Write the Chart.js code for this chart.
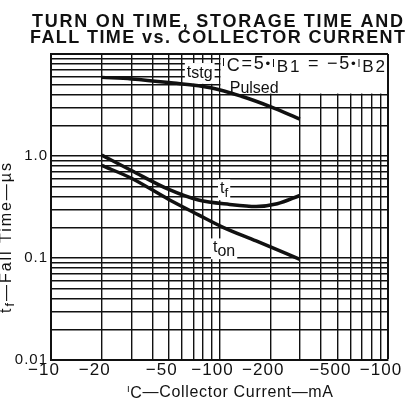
<!DOCTYPE html>
<html>
<head>
<meta charset="utf-8">
<script src="https://cdn.jsdelivr.net/npm/chart.js@4.4.1/dist/chart.umd.min.js"></script>
<style>
  html, body { margin: 0; padding: 0; background: #fff; }
  #wrap { width: 415px; height: 400px; }
</style>
</head>
<body>
<div id="wrap"><canvas id="c" width="415" height="400"></canvas></div>
<script>
// Collector current (mA) and switching times (µs)
const tstgCurrent = [-20, -30, -50, -90, -135, -200, -300];
const tstgTime = [5.9, 5.7, 5.25, 4.65, 3.85, 3.05, 2.3];

const tfCurrent = [-20, -30, -50, -75, -115, -165, -220, -300];
const tfTime = [1.02, 0.72, 0.47, 0.37, 0.335, 0.32, 0.34, 0.41];

const tonCurrent = [-20, -30, -50, -75, -105, -165, -300];
const tonTime = [0.81, 0.605, 0.375, 0.265, 0.2, 0.147, 0.097];

// grid lines: |Ic| in mA, time in µs
const xGrid = [10, 20, 30, 40, 50, 60, 70, 80, 90, 100, 200, 300, 400, 500, 600, 700, 800, 900, 1000];
const yGrid = [0.01, 0.02, 0.03, 0.04, 0.05, 0.06, 0.07, 0.08, 0.09,
               0.1, 0.2, 0.3, 0.4, 0.5, 0.6, 0.7, 0.8, 0.9,
               1, 2, 3, 4, 5, 6, 7, 8, 9, 10];

const xLabelValues = [10, 20, 50, 100, 200, 500, 1000];
const xLabels = ['−10', '−20', '−50', '−100', '−200', '−500', '−100'];
const yLabelValues = [0.01, 0.1, 1];
const yLabels = ['0.01', '0.1', '1.0'];

const FAMILY = "'Liberation Sans', Arial, sans-serif";
const INK = '#111';

function fontStr(size, bold) {
    return (bold ? 'bold ' : '') + size + 'px ' + FAMILY;
}

function labelFor(value, values, labels) {
    const i = values.findIndex(v => Math.abs(v - value) / v < 1e-6);
    return i < 0 ? '' : labels[i];
}

// segs: [text, size factor, baseline shift]
function drawRich(ctx, segs, x, y, size, opts) {
    opts = opts || {};
    ctx.letterSpacing = '0px';
    let w = 0, n = 0;
    const widths = segs.map(s => {
        ctx.font = fontStr(size * s[1], opts.bold);
        const m = ctx.measureText(s[0]).width;
        w += m;
        n += s[0].length;
        return m;
    });
    const ls = opts.width ? (opts.width - w) / (n - 1) : 0;
    const total = w + ls * (n - 1);
    const left = opts.align === 'center' ? x - total / 2 : x;
    if (!opts.dry) {
        let cx = left;
        ctx.letterSpacing = ls + 'px';
        segs.forEach((s, i) => {
            ctx.font = fontStr(size * s[1], opts.bold);
            ctx.fillText(s[0], cx, y + s[2]);
            cx += widths[i] + ls * s[0].length;
        });
        ctx.letterSpacing = '0px';
    }
    return { left: left, width: total };
}

// text placed on the plot, anchored in data coordinates (|Ic|, t)
const notes = [
    { segs: [['t', 1, 0], ['stg', 1, 1]], x: 64, y: 6.0, size: 16, box: true },
    { segs: [['t', 1, 0], ['f', 0.85, 4]], x: 100.7, y: 0.434, size: 16, box: true },
    { segs: [['t', 1, 0], ['on', 1, 4]], x: 91.5, y: 0.1145, size: 16, box: true },
    { segs: [['I', 0.6, -2.5], ['C', 1, 2.4], ['=5', 1, 0], ['•', 0.75, -1], ['I', 0.6, -2], ['B1', 0.95, 3],
             [' = −5', 1, 0], ['•', 0.75, -1], ['I', 0.6, -2], ['B2', 0.95, 3]], x: 103.5, y: 7.2, size: 18, width: 163 },
    { segs: [['Pulsed', 1, 0]], x: 115, y: 4.12, size: 16 }
];

const notesPlugin = {
    id: 'notes',
    beforeDraw(chart) {
        chart.ctx.letterSpacing = '1px';
    },
    beforeDatasetsDraw(chart) {
        const { ctx, chartArea: a, scales: { x, y } } = chart;
        ctx.save();
        ctx.fillStyle = '#fff';
        // condition box: left edge on the -100 mA line, bottom on the 4 µs line
        const bx = x.getPixelForValue(100) + 1;
        const by = y.getPixelForValue(4) - 1;
        ctx.fillRect(bx, a.top + 1, a.right - 1 - bx, by - a.top - 1);
        notes.filter(n => n.box).forEach(n => {
            const px = x.getPixelForValue(n.x), py = y.getPixelForValue(n.y);
            const g = drawRich(ctx, n.segs, px, py, n.size, { dry: true });
            ctx.fillStyle = '#fff';
            ctx.fillRect(g.left - 2, py - n.size * 0.85, g.width + 4, n.size * 1.3);
        });
        ctx.restore();
    },
    afterDraw(chart) {
        const { ctx, scales: { x, y } } = chart;
        ctx.save();
        ctx.fillStyle = INK;
        ctx.textAlign = 'left';
        ctx.textBaseline = 'alphabetic';

        notes.forEach(n => {
            drawRich(ctx, n.segs, x.getPixelForValue(n.x), y.getPixelForValue(n.y), n.size, { width: n.width });
        });

        // title
        drawRich(ctx, [['TURN ON TIME, STORAGE TIME AND', 1, 0]], 217.5, 27, 18, { bold: true, align: 'center', width: 371 });
        drawRich(ctx, [['FALL TIME vs. COLLECTOR CURRENT', 1, 0]], 217.5, 43, 18, { bold: true, align: 'center', width: 375 });

        // x axis title
        drawRich(ctx, [['I', 0.6, -5], ['C', 1, 1], ['—Collector Current—mA', 1, 0]], 230, 397, 16, { align: 'center', width: 206 });

        // y axis title
        ctx.translate(11, 238);
        ctx.rotate(-Math.PI / 2);
        drawRich(ctx, [['t', 1, 0], ['f', 0.8, 3], ['—Fall Time—µs', 1, 0]], 0, 0, 16, { align: 'center', width: 150 });
        ctx.restore();
    }
};

const toPoints = (current, time) => current.map((c, i) => ({ x: -c, y: time[i] }));

function curve(label, current, time) {
    return {
        label: label,
        data: toPoints(current, time),
        borderColor: INK,
        borderWidth: 3.5,
        pointRadius: 0,
        fill: false,
        tension: 0.4,
        cubicInterpolationMode: 'monotone'
    };
}

new Chart(document.getElementById('c'), {
    type: 'line',
    data: {
        datasets: [
            curve('tstg', tstgCurrent, tstgTime),
            curve('tf', tfCurrent, tfTime),
            curve('ton', tonCurrent, tonTime)
        ]
    },
    options: {
        responsive: false,
        animation: false,
        layout: { padding: { top: 54, right: 27, left: 0, bottom: 0 } },
        plugins: {
            legend: { display: false },
            tooltip: { enabled: false }
        },
        scales: {
            x: {
                type: 'logarithmic',
                position: 'bottom',
                min: 10,
                max: 1000,
                afterBuildTicks: s => { s.ticks = xGrid.map(v => ({ value: v })); },
                afterFit: s => { s.height = 40; },
                grid: {
                    color: INK,
                    lineWidth: c => (c.tick && c.tick.value === 1000) ? 2 : 1.4,
                    drawTicks: false
                },
                border: { color: INK, width: 2 },
                ticks: {
                    autoSkip: false,
                    maxRotation: 0,
                    padding: 0,
                    labelOffset: -7,
                    color: INK,
                    font: { family: FAMILY, size: 17 },
                    callback: v => labelFor(v, xLabelValues, xLabels)
                }
            },
            y: {
                type: 'logarithmic',
                min: 0.01,
                max: 10,
                afterBuildTicks: s => { s.ticks = yGrid.map(v => ({ value: v })); },
                afterFit: s => { s.width = 51; },
                grid: {
                    color: INK,
                    lineWidth: c => (c.tick && c.tick.value === 10) ? 2 : 1.4,
                    drawTicks: false
                },
                border: { color: INK, width: 2 },
                ticks: {
                    autoSkip: false,
                    padding: 3,
                    color: INK,
                    font: { family: FAMILY, size: 15 },
                    callback: v => labelFor(v, yLabelValues, yLabels)
                }
            }
        }
    },
    plugins: [notesPlugin]
});
</script>
</body>
</html>
